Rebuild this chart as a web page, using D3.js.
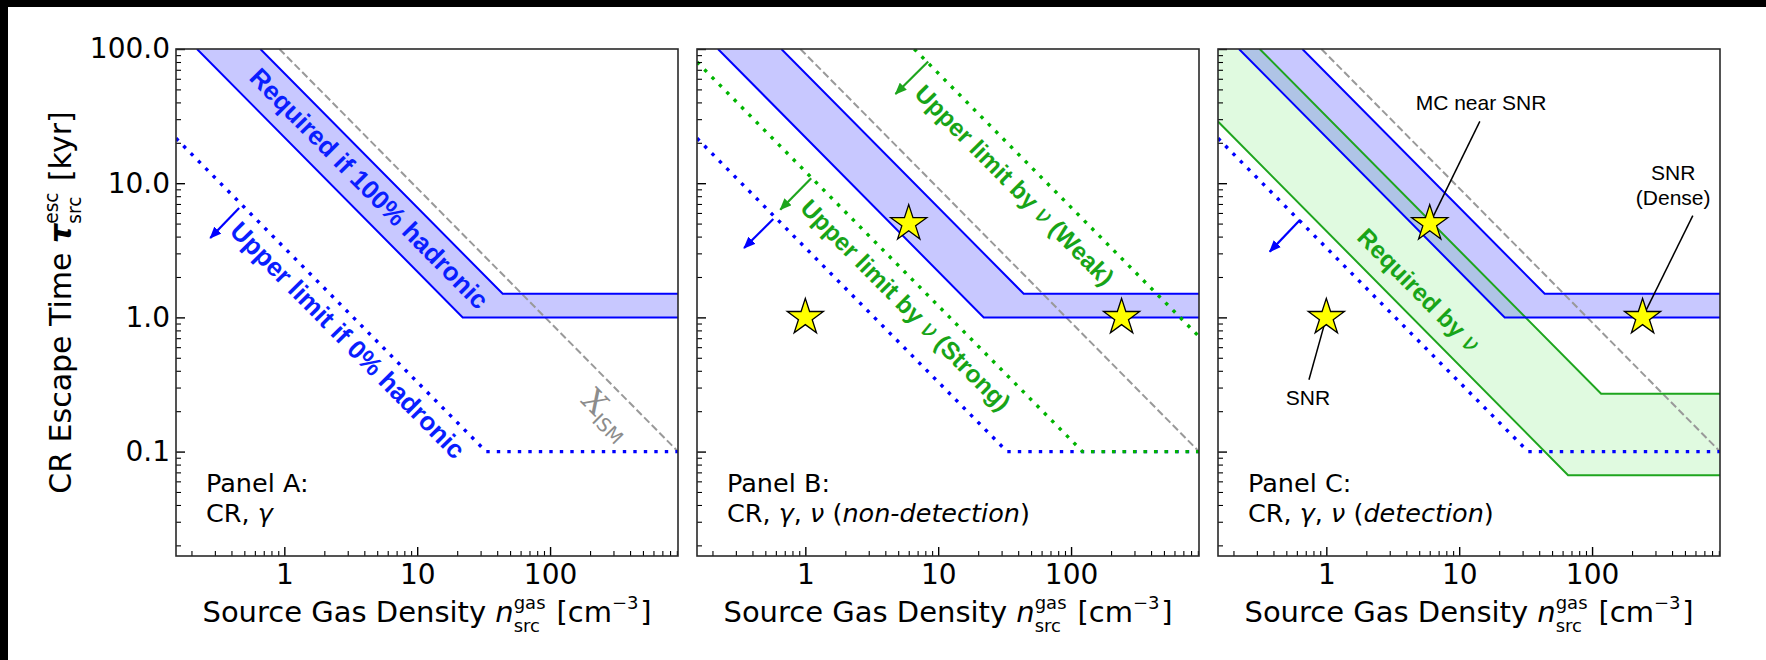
<!DOCTYPE html>
<html>
<head>
<meta charset="utf-8">
<script src="https://cdn.jsdelivr.net/npm/d3@7"></script>
<style>
  html, body { margin: 0; padding: 0; background: #000; }
  svg { display: block; }
  text { white-space: pre; }
</style>
</head>
<body>
<svg id="fig" width="1766" height="660"></svg>
<script>
// ---- axis limits and ticks ----
const densityDomain = [0.153, 918];      // n_src^gas [cm^-3]
const timeDomain = [1 / 60, 100];        // tau_src^esc [kyr]
const xTickValues = [1, 10, 100];
const xTickLabels = ["1", "10", "100"];
const yTickValues = [0.1, 1, 10, 100];
const yTickLabels = ["0.1", "1.0", "10.0", "100.0"];

// ---- curves, as [density, escape time] vertices ----
const hadronicLow  = [[0.22, 100], [22, 1], [918, 1]];
const hadronicHigh = [[0.66, 100], [44, 1.5], [918, 1.5]];
const leptonicLimit = [[0.153, 21.6], [33, 0.1], [918, 0.1]];
const ismLine = [[0.918, 100], [918, 0.1]];
const nuStrongLimit = [[0.153, 80], [122, 0.1], [918, 0.1]];
const nuWeakLimit = [[6.6, 100], [918, 0.72]];
const nuRequiredLow  = [[0.153, 28.8], [66, 0.0667], [918, 0.0667]];
const nuRequiredHigh = [[0.315, 100], [117, 0.27], [918, 0.27]];

// ---- sources ----
const sourcePoints = [[1, 1], [6, 5], [240, 1]];
const sourceNames = [["SNR"], ["MC near SNR"], ["SNR", "(Dense)"]];
const sourceLabelAt = [[0.727, 0.223], [14.6, 35.3], [408, 10.6]];
const sourceLeaderFrom = [[0.74, 0.343], [14.3, 28.9], [573, 5.73]];

// ---- limit arrows: [from, to] ----
const arrowLeptonicA = [[0.457, 6.53], [0.277, 3.9]];
const arrowLeptonicB = [[0.574, 5.41], [0.346, 3.29]];
const arrowStrongB   = [[1.107, 10.9], [0.648, 6.35]];
const arrowWeakB     = [[8.41, 80.8], [4.77, 46.2]];
const arrowLeptonicC = [[0.635, 5.35], [0.375, 3.09]];

// ---- label anchors ----
const hadronicLabelAt = [4.37, 9.17];
const leptonicLabelAt = [3.02, 0.679];
const ismLabelAt = [250, 0.178];
const strongLabelAt = [5.72, 1.24];
const weakLabelAt = [37.7, 9.7];
const nuRequiredLabelAt = [4.98, 1.6];

const panelTitles = ["Panel A:", "Panel B:", "Panel C:"];
const panelSubtitles = [
  [["CR, "], ["γ", "i"]],
  [["CR, "], ["γ", "i"], [", "], ["ν", "i"], [" ("], ["non-detection", "i"], [")"]],
  [["CR, "], ["γ", "i"], [", "], ["ν", "i"], [" ("], ["detection", "i"], [")"]]
];

// ---- layout ----
const W = 1766, H = 660;
const panelLeft = [176, 697, 1218];
const panelTop = 49, panelW = 502, panelH = 507;

const BLUE = "#0000ff", BLUE_TXT = "#0a1eff";
const GREEN = "#1ea51e", GREEN_DOT = "#00b400", GREEN_TXT = "#18a418", GREY = "#999999";
const SANS = "'DejaVu Sans', sans-serif";
const ARIAL = "'Liberation Sans', Arial, sans-serif";

const svg = d3.select("#fig");
svg.append("rect").attr("x", 8).attr("y", 7).attr("width", W - 8).attr("height", H - 7).attr("fill", "#fff");
const defs = svg.append("defs");

function arrowMarker(id, color) {
  defs.append("marker").attr("id", id)
    .attr("viewBox", "0 0 12 10").attr("refX", 11).attr("refY", 5)
    .attr("markerWidth", 12).attr("markerHeight", 10)
    .attr("markerUnits", "userSpaceOnUse").attr("orient", "auto")
    .append("path").attr("d", "M0,0 L12,5 L0,10 Z").attr("fill", color);
}
arrowMarker("headBlue", BLUE);
arrowMarker("headGreen", GREEN);

// one text element whose pieces are laid out side by side, with stacked sub/superscripts
function mathLabel(parent, parts, size) {
  const text = parent.append("text").style("font-family", SANS).attr("fill", "#000");
  let cx = 0;
  const put = (txt, px, py, fs, st, wt) => {
    const t = text.append("tspan").attr("x", px).attr("y", py)
      .style("font-size", fs + "px").style("font-style", st || "normal")
      .style("font-weight", wt || "normal").text(txt);
    return t.node().getComputedTextLength();
  };
  parts.forEach(p => {
    if (p.sup !== undefined || p.sub !== undefined) {
      let w = 0;
      if (p.sup) w = Math.max(w, put(p.sup, cx, -0.44 * size, 0.62 * size));
      if (p.sub) w = Math.max(w, put(p.sub, cx, 0.33 * size, 0.62 * size));
      cx += w + 0.06 * size;
    } else {
      cx += put(p.t, cx, 0, size, p.i ? "italic" : "normal", p.b ? "bold" : "normal");
    }
  });
  text.selectAll("tspan").attr("x", function () { return +this.getAttribute("x") - cx / 2; });
  return text;
}

const xLabelParts = [{ t: "Source Gas Density " }, { t: "n", i: true }, { sup: "gas", sub: "src" },
  { t: " [cm" }, { sup: "−3" }, { t: "]" }];
const yLabelParts = [{ t: "CR Escape Time " }, { t: "τ", i: true, b: true }, { sup: "esc", sub: "src" },
  { t: " [kyr]" }];

panelLeft.forEach((left, pi) => {
  const x = d3.scaleLog().domain(densityDomain).range([0, panelW]);
  const y = d3.scaleLog().domain(timeDomain).range([panelH, 0]);
  const pt = d => [x(d[0]), y(d[1])];
  const line = d3.line().x(d => x(d[0])).y(d => y(d[1]));
  const angle = Math.atan2(y(0.1) - y(1), x(10) - x(1)) * 180 / Math.PI;

  const g = svg.append("g").attr("transform", `translate(${left},${panelTop})`);
  const clipId = "clip" + pi;
  defs.append("clipPath").attr("id", clipId).append("rect").attr("width", panelW).attr("height", panelH);
  const plot = g.append("g").attr("clip-path", `url(#${clipId})`);

  const band = (hi, lo, fill, op) => {
    const poly = hi.concat(lo.slice().reverse(), [[densityDomain[0], timeDomain[1]]]);
    plot.append("path").attr("d", line(poly) + "Z").attr("fill", fill).attr("fill-opacity", op);
  };
  const solid = (data, color) => plot.append("path").attr("d", line(data))
    .attr("fill", "none").attr("stroke", color).attr("stroke-width", 2);
  const dotted = (data, color) => plot.append("path").attr("d", line(data))
    .attr("fill", "none").attr("stroke", color).attr("stroke-width", 3.4)
    .attr("stroke-dasharray", "3.4,7.1");
  const dashed = data => plot.append("path").attr("d", line(data))
    .attr("fill", "none").attr("stroke", GREY).attr("stroke-width", 2)
    .attr("stroke-dasharray", "7.4,3.4");
  const arrow = (a, color, head) => {
    const [p0, p1] = [pt(a[0]), pt(a[1])];
    plot.append("line").attr("x1", p0[0]).attr("y1", p0[1]).attr("x2", p1[0]).attr("y2", p1[1])
      .attr("stroke", color).attr("stroke-width", 2.2).attr("marker-end", `url(#${head})`);
  };
  const slanted = (at, parts, color, size) => {
    const p = pt(at);
    const t = plot.append("text")
      .attr("transform", `translate(${p[0]},${p[1]}) rotate(${angle})`)
      .attr("text-anchor", "middle").attr("dy", "0.36em")
      .attr("fill", color).style("font-size", size + "px").style("font-family", ARIAL);
    parts.forEach(q => t.append("tspan").text(q[0])
      .style("font-weight", q[1] === "nu" ? "normal" : "bold")
      .style("font-style", q[1] === "nu" ? "italic" : "normal")
      .style("font-family", q[1] === "nu" ? SANS : null));
    return t;
  };

  // ---- bands ----
  if (pi === 2) band(nuRequiredHigh, nuRequiredLow, "#00d200", 0.12);
  band(hadronicHigh, hadronicLow, BLUE, 0.215);

  dashed(ismLine);
  if (pi === 2) { solid(nuRequiredHigh, GREEN); solid(nuRequiredLow, GREEN); }
  solid(hadronicHigh, BLUE);
  solid(hadronicLow, BLUE);
  dotted(leptonicLimit, BLUE);
  if (pi === 1) { dotted(nuStrongLimit, GREEN_DOT); dotted(nuWeakLimit, GREEN_DOT); }

  // ---- arrows ----
  if (pi === 0) arrow(arrowLeptonicA, BLUE, "headBlue");
  if (pi === 1) {
    arrow(arrowLeptonicB, BLUE, "headBlue");
    arrow(arrowStrongB, GREEN, "headGreen");
    arrow(arrowWeakB, GREEN, "headGreen");
  }
  if (pi === 2) arrow(arrowLeptonicC, BLUE, "headBlue");

  // ---- curve labels ----
  if (pi === 0) {
    slanted(hadronicLabelAt, [["Required if 100% hadronic"]], BLUE_TXT, 26);
    slanted(leptonicLabelAt, [["Upper limit if 0% hadronic"]], BLUE_TXT, 26);
    const p = pt(ismLabelAt);
    const t = plot.append("text")
      .attr("transform", `translate(${p[0]},${p[1]}) rotate(${angle})`)
      .attr("text-anchor", "middle").attr("dy", "0.3em").attr("fill", "#8c8c8c");
    t.append("tspan").text("X").style("font-family", "'DejaVu Serif', serif").style("font-size", "31px");
    t.append("tspan").text("ISM").attr("dy", "0.32em").style("font-family", SANS).style("font-size", "19px");
  }
  if (pi === 1) {
    slanted(strongLabelAt, [["Upper limit by "], ["ν", "nu"], [" (Strong)"]], GREEN_TXT, 24.5);
    slanted(weakLabelAt, [["Upper limit by "], ["ν", "nu"], [" (Weak)"]], GREEN_TXT, 24.5);
  }
  if (pi === 2) {
    slanted(nuRequiredLabelAt, [["Required by "], ["ν", "nu"]], GREEN_TXT, 24.5);
  }

  // ---- sources ----
  if (pi >= 1) {
    if (pi === 2) {
      sourcePoints.forEach((s, k) => {
        const a = pt(sourceLeaderFrom[k]), b = pt(s);
        g.append("line").attr("x1", a[0]).attr("y1", a[1]).attr("x2", b[0]).attr("y2", b[1])
          .attr("stroke", "#000").attr("stroke-width", 1.5);
        const lp = pt(sourceLabelAt[k]);
        sourceNames[k].forEach((nm, j) => g.append("text")
          .attr("x", lp[0]).attr("y", lp[1] + j * 25).attr("text-anchor", "middle")
          .style("font-family", ARIAL).style("font-size", "21px").attr("fill", "#000").text(nm));
      });
    }
    g.selectAll(null).data(sourcePoints).enter().append("path")
      .attr("transform", d => `translate(${x(d[0])},${y(d[1])})`)
      .attr("d", d3.symbol(d3.symbolStar, 405))
      .attr("fill", "#ffff00").attr("stroke", "#000").attr("stroke-width", 1.3);
  }

  // ---- panel captions ----
  g.append("text").attr("x", 30).attr("y", 443).style("font-family", SANS).style("font-size", "25.5px")
    .attr("fill", "#000").text(panelTitles[pi]);
  const cap = g.append("text").attr("x", 30).attr("y", 473).style("font-family", SANS)
    .style("font-size", "25.5px").attr("fill", "#000");
  panelSubtitles[pi].forEach(q => cap.append("tspan").text(q[0]).style("font-style", q[1] ? "italic" : "normal"));

  // ---- axes (ticks point inwards) ----
  const minorX = [], minorY = [];
  [0.1, 1, 10, 100].forEach(d => { for (let k = 2; k <= 9; k++) { const v = d * k; if (v > densityDomain[0] && v < densityDomain[1]) minorX.push(v); } });
  [0.01, 0.1, 1, 10].forEach(d => { for (let k = 2; k <= 9; k++) { const v = d * k; if (v > timeDomain[0] && v < timeDomain[1]) minorY.push(v); } });

  const styleAxis = ax => {
    ax.select(".domain").remove();
    ax.attr("font-size", null).attr("font-family", null);
    ax.selectAll("line").attr("stroke", "#000");
    ax.selectAll("text").style("font-family", SANS).style("font-size", "28px").attr("fill", "#000");
  };
  const xAxisG = g.append("g").attr("transform", `translate(0,${panelH})`)
    .call(d3.axisBottom(x).tickValues(xTickValues).tickSize(-9).tickPadding(8)
      .tickFormat((d, k) => xTickLabels[k]));
  styleAxis(xAxisG);
  xAxisG.selectAll("line").attr("stroke-width", 1.4);
  const xMinorG = g.append("g").attr("transform", `translate(0,${panelH})`)
    .call(d3.axisBottom(x).tickValues(minorX).tickSize(-5).tickFormat(""));
  styleAxis(xMinorG);
  xMinorG.selectAll("line").attr("stroke-width", 1.1);

  const yAxisG = g.append("g")
    .call(d3.axisLeft(y).tickValues(yTickValues).tickSize(-9).tickPadding(6)
      .tickFormat((d, k) => pi === 0 ? yTickLabels[k] : ""));
  styleAxis(yAxisG);
  yAxisG.selectAll("line").attr("stroke-width", 1.4);
  const yMinorG = g.append("g")
    .call(d3.axisLeft(y).tickValues(minorY).tickSize(-5).tickFormat(""));
  styleAxis(yMinorG);
  yMinorG.selectAll("line").attr("stroke-width", 1.1);

  // frame
  g.append("rect").attr("width", panelW).attr("height", panelH)
    .attr("fill", "none").attr("stroke", "#2a2a2a").attr("stroke-width", 1.6);

  // x label
  const xl = g.append("g").attr("transform", `translate(${panelW / 2},${573})`);
  mathLabel(xl, xLabelParts, 29);
});

// y label
const yl = svg.append("g").attr("transform", `translate(71,${panelTop + panelH / 2}) rotate(-90)`);
mathLabel(yl, yLabelParts, 30);
</script>
</body>
</html>
